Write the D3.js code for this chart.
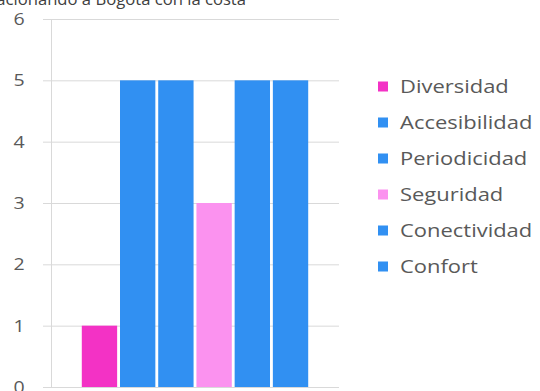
<!DOCTYPE html>
<html><head><meta charset="utf-8">
<script src="https://cdn.jsdelivr.net/npm/d3@7"></script>
<style>body{margin:0;background:#fff}svg{display:block}</style>
</head><body>
<svg id="c" width="540" height="391"></svg>
<script>
const title = "Relacionando a Bogotá con la costa";
const categories = ["Bogotá"];
const series = ["Diversidad","Accesibilidad","Periodicidad","Seguridad","Conectividad","Confort"];
const values = [1,5,5,3,5,5];
const colors = ["#f332c5","#3190f2","#3190f2","#fb92ef","#3190f2","#3190f2"];
const yTicks = [0,1,2,3,4,5,6];

const svg = d3.select("#c");
const plot = {l:51, r:339, t:19, b:387};
const y = d3.scaleLinear().domain([0,6]).range([plot.b, plot.t]);
const x0 = d3.scaleBand().domain(categories).range([plot.l, plot.r]).paddingOuter(0.136).paddingInner(0);
const x1 = d3.scaleBand().domain(series).range([0, x0.bandwidth()]).paddingInner(0.075).paddingOuter(0);

// gridlines
svg.append("g").selectAll("line").data(yTicks).join("line")
  .attr("x1", plot.l-8).attr("x2", plot.r)
  .attr("y1", d=>y(d)+0.5).attr("y2", d=>y(d)+0.5)
  .attr("stroke", "#d9d9d9").attr("stroke-width", 1);
svg.append("line").attr("x1", plot.l+0.5).attr("x2", plot.l+0.5)
  .attr("y1", plot.t).attr("y2", plot.b).attr("stroke","#d9d9d9");

// y labels
svg.append("g").selectAll("text").data(yTicks).join("text")
  .attr("transform", d=>`translate(19,${y(d)+6}) scale(1.15,1)`)
  .attr("text-anchor","middle")
  .attr("font-family","Open Sans, sans-serif").attr("font-size",17)
  .attr("fill","#595959").text(d=>d);

// bars
const g = svg.append("g");
categories.forEach(cat => {
  g.selectAll("rect").data(series).join("rect")
    .attr("x", s => x0(cat) + x1(s))
    .attr("width", x1.bandwidth())
    .attr("y", (s,i) => y(values[i]))
    .attr("height", (s,i) => y(0) - y(values[i]))
    .attr("fill", (s,i) => colors[i]);
});

// title (clipped at top)
svg.append("text").attr("transform","translate(246,5) scale(1.04,1)")
  .attr("text-anchor","end")
  .attr("font-family","Open Sans, sans-serif").attr("font-size",16)
  .attr("fill","#404040").text(title);

// legend
const lg = svg.append("g");
series.forEach((s,i) => {
  const cy = 86.5 + i*36;
  lg.append("rect").attr("x",378).attr("y",cy-5).attr("width",10).attr("height",10).attr("fill",colors[i]);
  lg.append("text").attr("transform",`translate(400,${cy+6.5}) scale(1.22,1)`)
    .attr("font-family","Open Sans, sans-serif").attr("font-size",18)
    .attr("fill","#595959").text(s);
});
</script>
</body></html>
